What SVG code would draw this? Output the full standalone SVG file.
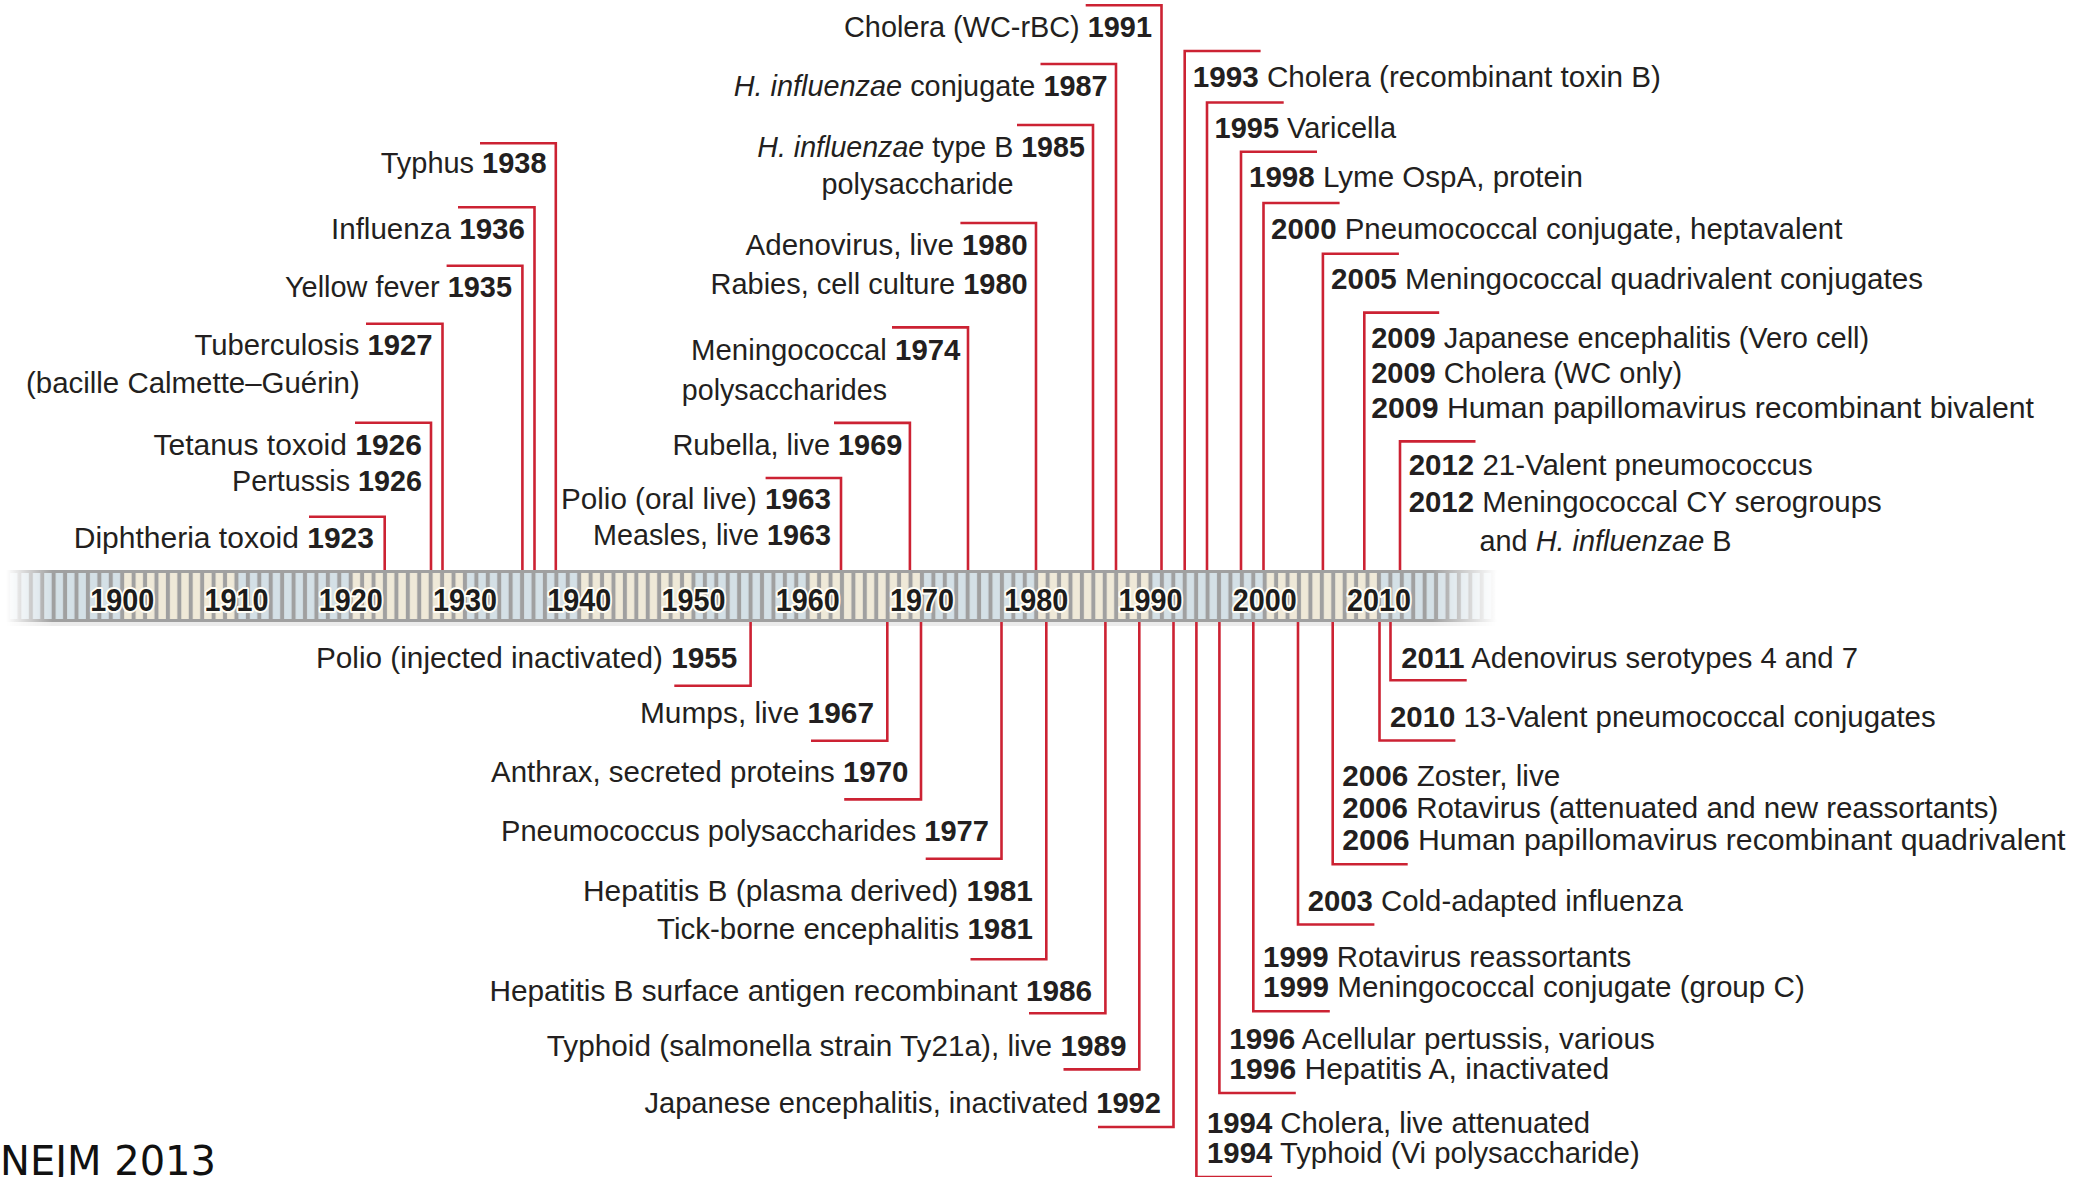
<svg xmlns="http://www.w3.org/2000/svg" width="2083" height="1177" viewBox="0 0 2083 1177">
<style>
.t{font-family:"Liberation Sans",Arial,sans-serif;font-size:30px;fill:#231f20}
.e{text-anchor:end}
.m{text-anchor:middle}
.b{font-weight:bold}
.i{font-style:italic}
.c{fill:none;stroke:#cc2233;stroke-width:2.6}
.yr{font-family:"Liberation Sans",Arial,sans-serif;font-size:32px;font-weight:bold;fill:#1c1c1c;stroke:#fffdf5;stroke-width:4;paint-order:stroke;stroke-linejoin:round;text-anchor:middle}
</style>
<defs>
<pattern id="pb" patternUnits="userSpaceOnUse" x="122.2" y="573" width="11.425" height="46"><rect x="2" y="0" width="7.4" height="46" fill="#d4e0e6"/></pattern>
<pattern id="pc" patternUnits="userSpaceOnUse" x="122.2" y="573" width="11.425" height="46"><rect x="2" y="0" width="7.4" height="46" fill="#efe9d8"/></pattern>
<linearGradient id="fade" gradientUnits="userSpaceOnUse" x1="0" y1="0" x2="1500" y2="0">
<stop offset="0.004" stop-color="#000"/>
<stop offset="0.035" stop-color="#fff"/>
<stop offset="0.955" stop-color="#fff"/>
<stop offset="0.998" stop-color="#000"/>
</linearGradient>
<mask id="m"><rect x="0" y="560" width="1520" height="80" fill="url(#fade)"/></mask>
</defs>
<rect width="2083" height="1177" fill="#fff"/>
<g id="timeline">
<g mask="url(#m)">
<rect x="0" y="570" width="1520" height="52" fill="#a0a0a0"/>
<rect x="0" y="622" width="1520" height="4" fill="#000" opacity="0.08"/>
<rect x="7.95" y="573" width="114.25" height="46" fill="url(#pb)"/>
<rect x="122.2" y="573" width="114.25" height="46" fill="url(#pc)"/>
<rect x="236.45" y="573" width="114.25" height="46" fill="url(#pb)"/>
<rect x="350.7" y="573" width="114.25" height="46" fill="url(#pc)"/>
<rect x="464.95" y="573" width="114.25" height="46" fill="url(#pb)"/>
<rect x="579.2" y="573" width="114.25" height="46" fill="url(#pc)"/>
<rect x="693.45" y="573" width="114.25" height="46" fill="url(#pb)"/>
<rect x="807.7" y="573" width="114.25" height="46" fill="url(#pc)"/>
<rect x="921.95" y="573" width="114.25" height="46" fill="url(#pb)"/>
<rect x="1036.2" y="573" width="114.25" height="46" fill="url(#pc)"/>
<rect x="1150.45" y="573" width="114.25" height="46" fill="url(#pb)"/>
<rect x="1264.7" y="573" width="114.25" height="46" fill="url(#pc)"/>
<rect x="1378.95" y="573" width="114.25" height="46" fill="url(#pb)"/>
<rect x="1493.2" y="573" width="114.25" height="46" fill="url(#pc)"/>
</g>
<text class="yr" x="122.2" y="611" textLength="64" lengthAdjust="spacingAndGlyphs">1900</text>
<text class="yr" x="236.45" y="611" textLength="64" lengthAdjust="spacingAndGlyphs">1910</text>
<text class="yr" x="350.7" y="611" textLength="64" lengthAdjust="spacingAndGlyphs">1920</text>
<text class="yr" x="464.95" y="611" textLength="64" lengthAdjust="spacingAndGlyphs">1930</text>
<text class="yr" x="579.2" y="611" textLength="64" lengthAdjust="spacingAndGlyphs">1940</text>
<text class="yr" x="693.45" y="611" textLength="64" lengthAdjust="spacingAndGlyphs">1950</text>
<text class="yr" x="807.7" y="611" textLength="64" lengthAdjust="spacingAndGlyphs">1960</text>
<text class="yr" x="921.95" y="611" textLength="64" lengthAdjust="spacingAndGlyphs">1970</text>
<text class="yr" x="1036.2" y="611" textLength="64" lengthAdjust="spacingAndGlyphs">1980</text>
<text class="yr" x="1150.45" y="611" textLength="64" lengthAdjust="spacingAndGlyphs">1990</text>
<text class="yr" x="1264.7" y="611" textLength="64" lengthAdjust="spacingAndGlyphs">2000</text>
<text class="yr" x="1378.95" y="611" textLength="64" lengthAdjust="spacingAndGlyphs">2010</text>
</g>
<g id="connectors">
<path class="c" d="M309,516.7H384.7V570"/>
<path class="c" d="M355,422.7H431V570"/>
<path class="c" d="M366,323.7H442.5V570"/>
<path class="c" d="M446.6,265.7H522.4V570"/>
<path class="c" d="M458,207.3H534.5V570"/>
<path class="c" d="M480,143.3H555.8V570"/>
<path class="c" d="M765.6,478H841V570"/>
<path class="c" d="M834,422.9H909.9V570"/>
<path class="c" d="M892,327.4H968V570"/>
<path class="c" d="M960.4,223H1036V570"/>
<path class="c" d="M1017,125H1093V570"/>
<path class="c" d="M1040.5,64H1116V570"/>
<path class="c" d="M1085.7,5.2H1161.5V570"/>
<path class="c" d="M1260.6,51H1184.7V570"/>
<path class="c" d="M1283.7,102.5H1207V570"/>
<path class="c" d="M1317,151.7H1241V570"/>
<path class="c" d="M1339.6,203H1263.5V570"/>
<path class="c" d="M1398.9,253.8H1322.9V570"/>
<path class="c" d="M1439.2,312.6H1364.3V570"/>
<path class="c" d="M1475.5,441.4H1400V570"/>
<path class="c" d="M750.6,622V685.7H674.3"/>
<path class="c" d="M887.3,622V740.8H811"/>
<path class="c" d="M921,622V799.4H844.2"/>
<path class="c" d="M1001.5,622V858.7H925.7"/>
<path class="c" d="M1046.3,622V959.2H970.5"/>
<path class="c" d="M1105.4,622V1013.2H1029"/>
<path class="c" d="M1139.3,622V1069.4H1063.5"/>
<path class="c" d="M1173.5,622V1127H1098"/>
<path class="c" d="M1196.4,622V1177H1272"/>
<path class="c" d="M1219.4,622V1093H1295.8"/>
<path class="c" d="M1253.3,622V1011.3H1329.8"/>
<path class="c" d="M1298,622V924.5H1374.4"/>
<path class="c" d="M1332.7,622V864.2H1407.7"/>
<path class="c" d="M1379.5,622V740.5H1455.4"/>
<path class="c" d="M1390.5,622V680.2H1466.7"/>
</g>
<g id="n1923"><text class="t e" x="374" y="547.7">Diphtheria toxoid <tspan class="b">1923</tspan></text></g>
<g id="n1926"><text class="t e" x="422" y="455">Tetanus toxoid <tspan class="b">1926</tspan></text><text class="t e" x="422" y="490.7" textLength="190" lengthAdjust="spacingAndGlyphs">Pertussis <tspan class="b">1926</tspan></text></g>
<g id="n1927"><text class="t e" x="432.5" y="355" textLength="238" lengthAdjust="spacingAndGlyphs">Tuberculosis <tspan class="b">1927</tspan></text><text class="t" x="26" y="393.3" textLength="333.7" lengthAdjust="spacingAndGlyphs">(bacille Calmette–Guérin)</text></g>
<g id="n1935"><text class="t e" x="512" y="296.7" textLength="227" lengthAdjust="spacingAndGlyphs">Yellow fever <tspan class="b">1935</tspan></text></g>
<g id="n1936"><text class="t e" x="525" y="239" textLength="194" lengthAdjust="spacingAndGlyphs">Influenza <tspan class="b">1936</tspan></text></g>
<g id="n1938"><text class="t e" x="546.5" y="173.3" textLength="165.7" lengthAdjust="spacingAndGlyphs">Typhus <tspan class="b">1938</tspan></text></g>
<g id="n1963"><text class="t e" x="831" y="508.7" textLength="270" lengthAdjust="spacingAndGlyphs">Polio (oral live) <tspan class="b">1963</tspan></text><text class="t e" x="831" y="544.6" textLength="238" lengthAdjust="spacingAndGlyphs">Measles, live <tspan class="b">1963</tspan></text></g>
<g id="n1969"><text class="t e" x="902.4" y="455" textLength="230" lengthAdjust="spacingAndGlyphs">Rubella, live <tspan class="b">1969</tspan></text></g>
<g id="n1974"><text class="t e" x="960.4" y="359.6" textLength="269.4" lengthAdjust="spacingAndGlyphs">Meningococcal <tspan class="b">1974</tspan></text><text class="t" x="681.8" y="399.6" textLength="205.2" lengthAdjust="spacingAndGlyphs">polysaccharides</text></g>
<g id="n1980"><text class="t e" x="1027.6" y="255.3" textLength="282" lengthAdjust="spacingAndGlyphs">Adenovirus, live <tspan class="b">1980</tspan></text><text class="t e" x="1027.6" y="294.1" textLength="317" lengthAdjust="spacingAndGlyphs">Rabies, cell culture <tspan class="b">1980</tspan></text></g>
<g id="n1985"><text class="t e" x="1084.8" y="157.2" textLength="327.5" lengthAdjust="spacingAndGlyphs"><tspan class="i">H. influenzae</tspan> type B <tspan class="b">1985</tspan></text><text class="t m" x="917.5" y="194.2" textLength="191.9" lengthAdjust="spacingAndGlyphs">polysaccharide</text></g>
<g id="n1987"><text class="t e" x="1107.6" y="96.2" textLength="373.9" lengthAdjust="spacingAndGlyphs"><tspan class="i">H. influenzae</tspan> conjugate <tspan class="b">1987</tspan></text></g>
<g id="n1991"><text class="t e" x="1152" y="37" textLength="308" lengthAdjust="spacingAndGlyphs">Cholera (WC-rBC) <tspan class="b">1991</tspan></text></g>
<g id="n1993"><text class="t" x="1192.7" y="87" textLength="468.3" lengthAdjust="spacingAndGlyphs"><tspan class="b">1993</tspan> Cholera (recombinant toxin B)</text></g>
<g id="n1995"><text class="t" x="1214.6" y="137.6" textLength="181.4" lengthAdjust="spacingAndGlyphs"><tspan class="b">1995</tspan> Varicella</text></g>
<g id="n1998"><text class="t" x="1249" y="186.8" textLength="334" lengthAdjust="spacingAndGlyphs"><tspan class="b">1998</tspan> Lyme OspA, protein</text></g>
<g id="n2000"><text class="t" x="1271" y="238.6" textLength="571.4" lengthAdjust="spacingAndGlyphs"><tspan class="b">2000</tspan> Pneumococcal conjugate, heptavalent</text></g>
<g id="n2005"><text class="t" x="1331" y="288.6" textLength="592" lengthAdjust="spacingAndGlyphs"><tspan class="b">2005</tspan> Meningococcal quadrivalent conjugates</text></g>
<g id="n2009"><text class="t" x="1371.2" y="347.8" textLength="498" lengthAdjust="spacingAndGlyphs"><tspan class="b">2009</tspan> Japanese encephalitis (Vero cell)</text><text class="t" x="1371.2" y="382.9" textLength="311" lengthAdjust="spacingAndGlyphs"><tspan class="b">2009</tspan> Cholera (WC only)</text><text class="t" x="1371.2" y="418" textLength="662.8" lengthAdjust="spacingAndGlyphs"><tspan class="b">2009</tspan> Human papillomavirus recombinant bivalent</text></g>
<g id="n2012"><text class="t" x="1408.7" y="475.4" textLength="404" lengthAdjust="spacingAndGlyphs"><tspan class="b">2012</tspan> 21-Valent pneumococcus</text><text class="t" x="1408.7" y="512.4" textLength="473" lengthAdjust="spacingAndGlyphs"><tspan class="b">2012</tspan> Meningococcal CY serogroups</text><text class="t" x="1479.5" y="550.5" textLength="252" lengthAdjust="spacingAndGlyphs">and <tspan class="i">H. influenzae</tspan> B</text></g>
<g id="n1955"><text class="t e" x="737.4" y="668" textLength="421.4" lengthAdjust="spacingAndGlyphs">Polio (injected inactivated) <tspan class="b">1955</tspan></text></g>
<g id="n1967"><text class="t e" x="874" y="723" textLength="234" lengthAdjust="spacingAndGlyphs">Mumps, live <tspan class="b">1967</tspan></text></g>
<g id="n1970"><text class="t e" x="908.5" y="781.6" textLength="417.5" lengthAdjust="spacingAndGlyphs">Anthrax, secreted proteins <tspan class="b">1970</tspan></text></g>
<g id="n1977"><text class="t e" x="988.9" y="841" textLength="487.9" lengthAdjust="spacingAndGlyphs">Pneumococcus polysaccharides <tspan class="b">1977</tspan></text></g>
<g id="n1981"><text class="t e" x="1033" y="900.6" textLength="450" lengthAdjust="spacingAndGlyphs">Hepatitis B (plasma derived) <tspan class="b">1981</tspan></text><text class="t e" x="1033" y="938.7" textLength="376" lengthAdjust="spacingAndGlyphs">Tick-borne encephalitis <tspan class="b">1981</tspan></text></g>
<g id="n1986"><text class="t e" x="1092.2" y="1000.8" textLength="602.8" lengthAdjust="spacingAndGlyphs">Hepatitis B surface antigen recombinant <tspan class="b">1986</tspan></text></g>
<g id="n1989"><text class="t e" x="1126.6" y="1056.2" textLength="579.8" lengthAdjust="spacingAndGlyphs">Typhoid (salmonella strain Ty21a), live <tspan class="b">1989</tspan></text></g>
<g id="n1992"><text class="t e" x="1161" y="1113" textLength="516.6" lengthAdjust="spacingAndGlyphs">Japanese encephalitis, inactivated <tspan class="b">1992</tspan></text></g>
<g id="n1994"><text class="t" x="1207" y="1133.4" textLength="383" lengthAdjust="spacingAndGlyphs"><tspan class="b">1994</tspan> Cholera, live attenuated</text><text class="t" x="1207" y="1163" textLength="432.7" lengthAdjust="spacingAndGlyphs"><tspan class="b">1994</tspan> Typhoid (Vi polysaccharide)</text></g>
<g id="n1996"><text class="t" x="1229.2" y="1048.9" textLength="425.6" lengthAdjust="spacingAndGlyphs"><tspan class="b">1996</tspan> Acellular pertussis, various</text><text class="t" x="1229.2" y="1079" textLength="380" lengthAdjust="spacingAndGlyphs"><tspan class="b">1996</tspan> Hepatitis A, inactivated</text></g>
<g id="n1999"><text class="t" x="1263.1" y="967.2" textLength="368" lengthAdjust="spacingAndGlyphs"><tspan class="b">1999</tspan> Rotavirus reassortants</text><text class="t" x="1263.1" y="997.4" textLength="541.7" lengthAdjust="spacingAndGlyphs"><tspan class="b">1999</tspan> Meningococcal conjugate (group C)</text></g>
<g id="n2003"><text class="t" x="1307.7" y="910.9" textLength="375" lengthAdjust="spacingAndGlyphs"><tspan class="b">2003</tspan> Cold-adapted influenza</text></g>
<g id="n2006"><text class="t" x="1342.3" y="785.8" textLength="218" lengthAdjust="spacingAndGlyphs"><tspan class="b">2006</tspan> Zoster, live</text><text class="t" x="1342.3" y="817.8" textLength="656" lengthAdjust="spacingAndGlyphs"><tspan class="b">2006</tspan> Rotavirus (attenuated and new reassortants)</text><text class="t" x="1342.3" y="850.2" textLength="723.2" lengthAdjust="spacingAndGlyphs"><tspan class="b">2006</tspan> Human papillomavirus recombinant quadrivalent</text></g>
<g id="n2010"><text class="t" x="1390" y="727" textLength="545.7" lengthAdjust="spacingAndGlyphs"><tspan class="b">2010</tspan> 13-Valent pneumococcal conjugates</text></g>
<g id="n2011"><text class="t" x="1401.2" y="668" textLength="456.8" lengthAdjust="spacingAndGlyphs"><tspan class="b">2011</tspan> Adenovirus serotypes 4 and 7</text></g>
<g id="credit"><text x="0" y="1175" style="font-family:'DejaVu Sans',Verdana,sans-serif;font-size:40px;fill:#111">NEJM 2013</text></g>
</svg>
